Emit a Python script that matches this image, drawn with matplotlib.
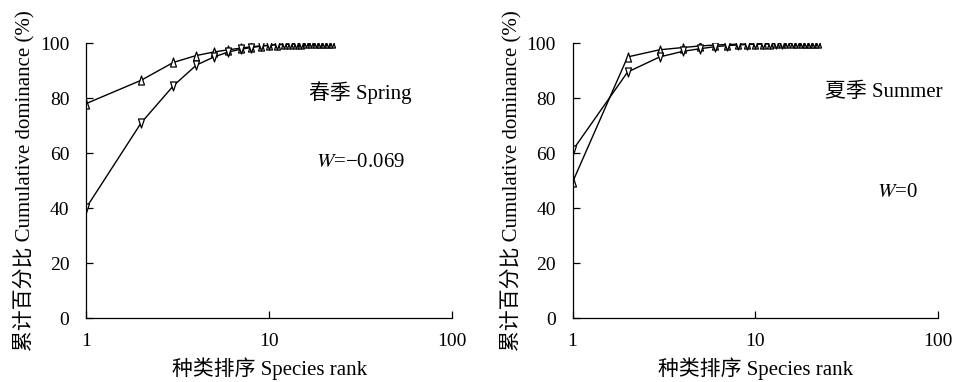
"""
Cumulative dominance curves (k-dominance) for spring and summer,
two panels with species rank on a log axis.
"""

import numpy as np
import matplotlib.pyplot as plt
from matplotlib.path import Path
from matplotlib.ticker import FixedLocator, FixedFormatter, NullLocator

plt.rcParams['font.family'] = ['Liberation Serif', 'Noto Sans CJK SC']
plt.rcParams['mathtext.fontset'] = 'stix'

# species rank 1..22
rank = np.arange(1, 23)

# spring
spring_up = [78, 86.5, 93, 95.5, 96.8, 97.6, 98.2, 98.7, 99.0, 99.3, 99.5,
             99.6, 99.7, 99.8, 99.85, 99.9, 99.93, 99.95, 99.97, 99.98, 99.99, 100]
spring_down = [40, 71, 84.5, 92, 95, 96.8, 97.8, 98.4, 98.9, 99.2, 99.4,
               99.55, 99.65, 99.75, 99.82, 99.88, 99.92, 99.95, 99.97, 99.98, 99.99, 100]

# summer
summer_up = [49.5, 95, 97.6, 98.4, 99.0, 99.3, 99.5, 99.6, 99.7, 99.75, 99.8,
             99.85, 99.88, 99.9, 99.92, 99.94, 99.96, 99.97, 99.98, 99.99, 99.995, 100]
summer_down = [61, 89.5, 95, 97, 98, 98.7, 99.1, 99.35, 99.5, 99.6, 99.7,
               99.75, 99.8, 99.85, 99.88, 99.91, 99.94, 99.96, 99.97, 99.98, 99.99, 100]

x_ticks = [1, 10, 100]
y_ticks = [0, 20, 40, 60, 80, 100]

season_labels = ['春季 Spring', '夏季 Summer']
w_labels = ['$W$=\u22120.069', '$W$=0']
season_pos = [(31.4, 82), (50.7, 82)]
w_pos = [(31.4, 56.7), (59.7, 45.5)]

xlabel = '种类排序 Species rank'
ylabel = '累计百分比 Cumulative dominance (%)'

# narrow open triangles, like the original figure
tri_up = Path([(-0.33, -0.5), (0.33, -0.5), (0, 0.5), (-0.33, -0.5)],
              [Path.MOVETO, Path.LINETO, Path.LINETO, Path.CLOSEPOLY])
tri_down = Path([(-0.33, 0.5), (0.33, 0.5), (0, -0.5), (-0.33, 0.5)],
                [Path.MOVETO, Path.LINETO, Path.LINETO, Path.CLOSEPOLY])


def draw_panel(ax, up, down, season, w, spos, wpos):
    ax.plot(rank, up, '-', color='black', lw=1.0, marker=tri_up, ms=6.5,
            mfc='white', mec='black', mew=0.9)
    ax.plot(rank, down, '-', color='black', lw=1.0, marker=tri_down, ms=6.5,
            mfc='white', mec='black', mew=0.9)
    ax.set_xscale('log')
    ax.set_xlim(1, 100)
    ax.set_ylim(0, 100)
    ax.xaxis.set_major_locator(FixedLocator(x_ticks))
    ax.xaxis.set_major_formatter(FixedFormatter([str(t) for t in x_ticks]))
    ax.xaxis.set_minor_locator(NullLocator())
    ax.set_yticks(y_ticks)
    ax.tick_params(direction='in', length=5, width=0.9, labelsize=14)
    ax.tick_params(axis='y', pad=12)
    ax.tick_params(axis='x', pad=11)
    for s in ['top', 'right']:
        ax.spines[s].set_visible(False)
    for s in ['left', 'bottom']:
        ax.spines[s].set_linewidth(0.9)
    ax.set_xlabel(xlabel, fontsize=15, labelpad=5)
    ax.set_ylabel(ylabel, fontsize=15, labelpad=4)
    ax.text(spos[0], spos[1], season, fontsize=15, ha='center', va='center')
    ax.text(wpos[0], wpos[1], w, fontsize=15, ha='center', va='center')


def main():
    fig = plt.figure(figsize=(9.56, 3.82), dpi=100)
    ax1 = fig.add_axes([0.090, 0.1675, 0.383, 0.7195])
    ax2 = fig.add_axes([0.599, 0.1675, 0.382, 0.7195])
    for ax in (ax1, ax2):
        ax.patch.set_alpha(0)
    draw_panel(ax1, spring_up, spring_down, season_labels[0], w_labels[0],
               season_pos[0], w_pos[0])
    draw_panel(ax2, summer_up, summer_down, season_labels[1], w_labels[1],
               season_pos[1], w_pos[1])
    fig.savefig('out.png', dpi=100)
    plt.close(fig)


if __name__ == '__main__':
    main()
